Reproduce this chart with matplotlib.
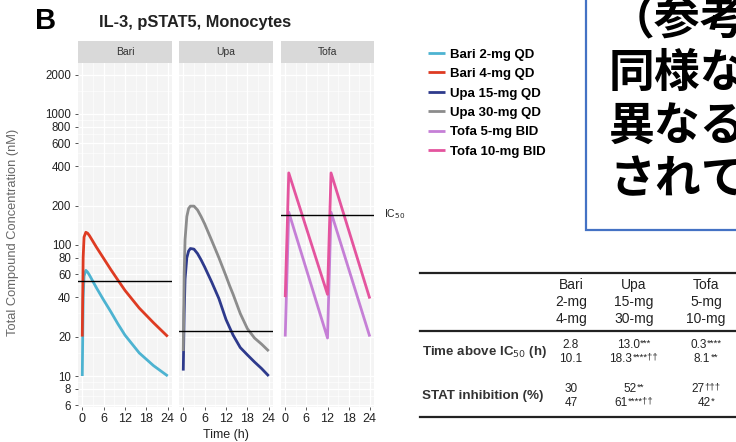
import matplotlib
matplotlib.use("Agg")
import matplotlib.pyplot as plt
from matplotlib.patches import Rectangle
from matplotlib.lines import Line2D
from matplotlib.ticker import FixedLocator, NullFormatter
from matplotlib.offsetbox import TextArea, HPacker, AnnotationBbox

plt.rcParams['font.family'] = ['Liberation Sans', 'DejaVu Sans']

# ---- data ----
panels = ["Bari", "Upa", "Tofa"]

bari_t = [0, 0.25, 0.5, 1, 1.5, 2, 4, 6, 8, 10, 12, 16, 20, 24]
bari_2mg = [10, 40, 58, 64, 62, 59, 47, 38, 31, 25, 20.5, 15, 12, 10]
bari_4mg = [20, 80, 115, 125, 123, 118, 96, 79, 65, 54, 45, 33, 25.5, 20]

upa_t = [0, 0.25, 0.5, 1, 1.5, 2, 3, 4, 5, 6, 8, 10, 12, 13, 14, 16, 18, 20, 22, 24]
upa_15mg = [11, 30, 55, 80, 90, 94, 93, 86, 77, 68, 52, 39, 27, 23.5, 20.5, 16.5, 14.5, 12.8, 11.4, 10]
upa_30mg = [15.5, 60, 110, 165, 190, 198, 198, 185, 165, 145, 108, 80, 58, 49, 42, 30, 23, 19.5, 17.5, 15.5]

tofa_t = [0, 1, 12, 13, 24]
tofa_5mg = [20, 178, 19.5, 178, 20]
tofa_10mg = [40, 355, 42, 355, 39]

ic50 = {"Bari": 53, "Upa": 22, "Tofa": 170}

series = {
    "Bari": [("Bari 2-mg QD", bari_t, bari_2mg, "#4DB3D1"),
             ("Bari 4-mg QD", bari_t, bari_4mg, "#DE3B22")],
    "Upa": [("Upa 15-mg QD", upa_t, upa_15mg, "#2E3A8C"),
            ("Upa 30-mg QD", upa_t, upa_30mg, "#8C8C8C")],
    "Tofa": [("Tofa 5-mg BID", tofa_t, tofa_5mg, "#C57FD6"),
             ("Tofa 10-mg BID", tofa_t, tofa_10mg, "#E4549E")],
}

y_ticks = [6, 8, 10, 20, 40, 60, 80, 100, 200, 400, 600, 800, 1000, 2000]
y_minor = [7, 9, 15, 30, 50, 70, 90, 150, 300, 500, 700, 900, 1500]
x_ticks = [0, 6, 12, 18, 24]

# table contents: (value, superscript) for the two doses of each drug
col_heads = ["Bari\n2-mg\n4-mg", "Upa\n15-mg\n30-mg", "Tofa\n5-mg\n10-mg"]
row_heads = [r"Time above IC$_{50}$ (h)", "STAT inhibition (%)"]
cells = [
    [[("2.8", ""), ("10.1", "")],
     [("13.0", "***"), ("18.3", "****††")],
     [("0.3", "****"), ("8.1", "**")]],
    [[("30", ""), ("47", "")],
     [("52", "**"), ("61", "****††")],
     [("27", "†††"), ("42", "*")]],
]

jp_lines = ["（参考", "同様な", "異なる", "されて"]

# ---- figure ----
W, H = 736, 442
fig = plt.figure(figsize=(W / 100, H / 100), dpi=100)
fig.patch.set_facecolor("white")


def box(x0, y0, x1, y1):
    # pixel box (top-left origin) -> figure fraction rect
    return [x0 / W, 1 - y1 / H, (x1 - x0) / W, (y1 - y0) / H]


def sup_text(px, py, base, sup, size):
    # value with a small raised superscript, centred on (px, py)
    kids = [TextArea(base, textprops=dict(fontsize=size, color="#222222"))]
    if sup:
        kids.append(TextArea(sup, textprops=dict(fontsize=size * 0.8, color="#222222")))
    pack = HPacker(children=kids, align="top", pad=0, sep=0.3)
    fig.add_artist(AnnotationBbox(pack, (px / W, 1 - py / H), xycoords="figure fraction",
                                  frameon=False, box_alignment=(0.5, 0.5), pad=0))


panel_x = [(78, 172), (179, 273), (281, 374)]
legend_handles = []
for i, name in enumerate(panels):
    x0, x1 = panel_x[i]
    ax = fig.add_axes(box(x0, 63, x1, 407))
    ax.set_facecolor("#F4F4F4")
    for sp in ax.spines.values():
        sp.set_visible(False)
    ax.set_yscale("log")
    ax.set_ylim(5.8, 2450)
    ax.set_xlim(-1.2, 25.2)

    ax.yaxis.set_major_locator(FixedLocator(y_ticks))
    ax.yaxis.set_minor_locator(FixedLocator(y_minor))
    ax.yaxis.set_minor_formatter(NullFormatter())
    ax.set_xticks(x_ticks)
    ax.set_xticks([3, 9, 15, 21], minor=True)
    ax.grid(True, which="major", color="white", lw=0.9)
    ax.grid(True, which="minor", color="white", lw=0.45)
    ax.set_axisbelow(True)
    ax.tick_params(which="minor", length=0)
    ax.tick_params(which="major", length=2.5, color="#555555", width=0.7,
                   labelsize=9, pad=2, labelcolor="#222222")
    ax.tick_params(axis="y", labelsize=8.3, pad=2.5)
    if i == 0:
        ax.set_yticklabels([str(v) for v in y_ticks])
    else:
        ax.tick_params(axis="y", left=False, labelleft=False)

    for label, t, c, col in series[name]:
        h, = ax.plot(t, c, color=col, lw=2.0, solid_capstyle="butt")
        legend_handles.append(h)
    ax.axhline(ic50[name], color="black", lw=1.0)

    # facet strip
    sax = fig.add_axes(box(x0, 41, x1, 63))
    sax.set_facecolor("#D9D9D9")
    sax.set_xticks([])
    sax.set_yticks([])
    for sp in sax.spines.values():
        sp.set_visible(False)
    sax.text(0.5, 0.5, name, ha="center", va="center", fontsize=7.5, color="#333333",
             transform=sax.transAxes)

# titles and axis labels
fig.text(35 / W, 1 - 21 / H, "B", fontsize=21, fontweight="bold", va="center")
fig.text(99 / W, 1 - 23 / H, "IL-3, pSTAT5, Monocytes", fontsize=11.8,
         fontweight="bold", va="center", color="#222222")
fig.text(13 / W, 1 - 232 / H, "Total Compound Concentration (nM)", rotation=90,
         fontsize=9.3, ha="center", va="center", color="#666666")
fig.text(226 / W, 1 - 435 / H, "Time (h)", fontsize=9, ha="center", va="center",
         color="#222222")
fig.text(384 / W, 1 - 214 / H, r"IC$_{50}$", fontsize=7.5, ha="left", va="center",
         color="#222222")

# legend
fig.legend(legend_handles, [s[0] for p in panels for s in series[p]],
           loc="upper left", bbox_to_anchor=(423 / W, 1 - 43 / H), frameon=False,
           prop=dict(size=9.5, weight="bold"), handlelength=1.3, handletextpad=0.35,
           labelspacing=0.55, borderaxespad=0)

# summary table
rule_kw = dict(color="#222222", lw=1.6, transform=fig.transFigure)
for yy in (273, 331, 417):
    fig.add_artist(Line2D([420 / W, 1.0], [1 - yy / H, 1 - yy / H], **rule_kw))
col_x = [571, 634, 706]
for cx, head in zip(col_x, col_heads):
    fig.text(cx / W, 1 - 302 / H, head, fontsize=10, ha="center", va="center",
             linespacing=1.3, color="#222222")
row_y = [352, 396]
for r, (ry, rh) in enumerate(zip(row_y, row_heads)):
    fig.text(422 / W, 1 - ry / H, rh, fontsize=9.6, fontweight="bold", ha="left",
             va="center", color="#333333")
    for cx, pair in zip(col_x, cells[r]):
        (b1, s1), (b2, s2) = pair
        sup_text(cx, ry - 7, b1, s1, 8.5)
        sup_text(cx, ry + 7, b2, s2, 8.5)

# overlaid Japanese note box (clipped by the right edge, as in the reference)
fig.add_artist(Rectangle((586 / W, 1 - 230 / H), 200 / W, 240 / H, transform=fig.transFigure,
                         facecolor="white", edgecolor="#4472C4", lw=1.6))
for k, line in enumerate(jp_lines):
    fig.text(609 / W, 1 - (20 + 53.5 * k) / H, line, fontsize=33, fontweight="bold",
             family=["Noto Sans CJK JP", "DejaVu Sans"], ha="left", va="center",
             color="black")

fig.savefig("out.png", dpi=100)
